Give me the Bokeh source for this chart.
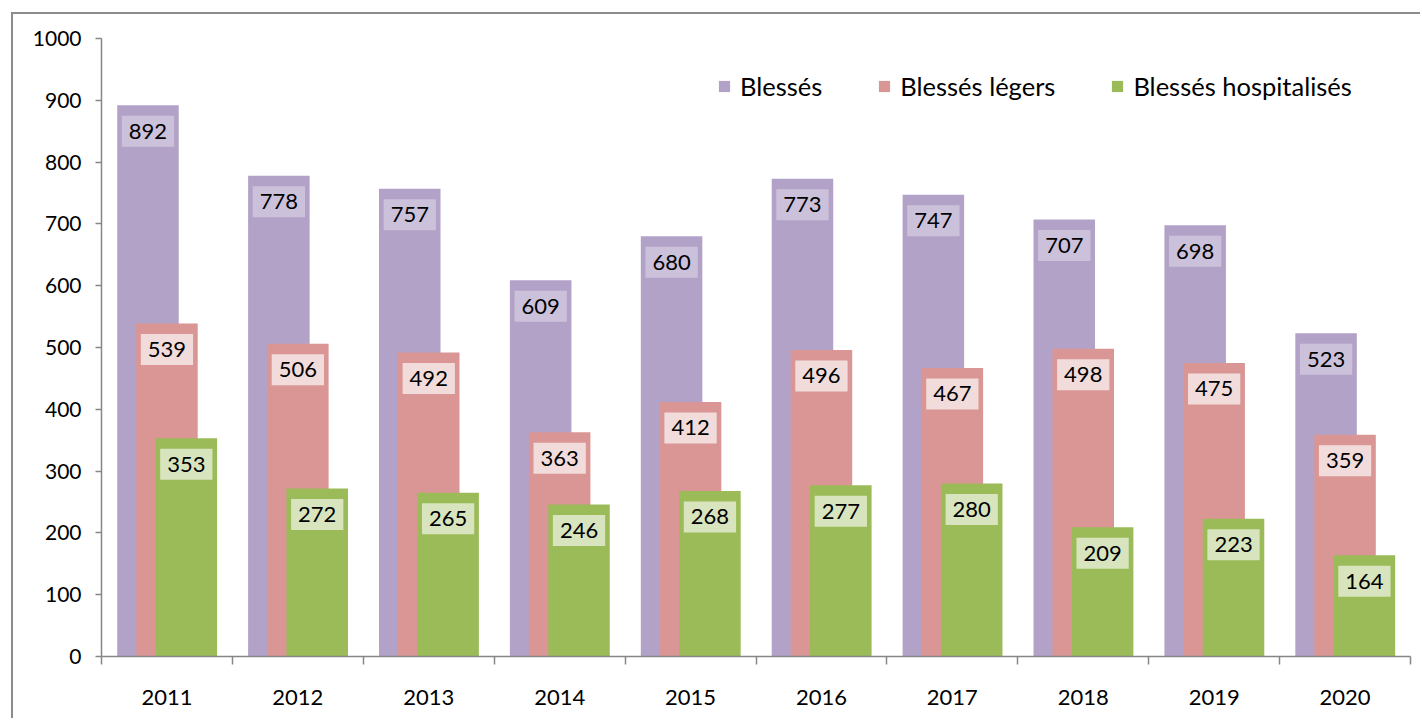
from bokeh.plotting import figure
from bokeh.models import Range1d, FixedTicker, Legend, LegendItem, ColumnDataSource, InlineStyleSheet
from bokeh.core.properties import value
from bokeh.transform import dodge
from bokeh.embed import file_html
from bokeh.resources import INLINE

years = [2011, 2012, 2013, 2014, 2015, 2016, 2017, 2018, 2019, 2020]
blesses = [892, 778, 757, 609, 680, 773, 747, 707, 698, 523]
blesses_legers = [539, 506, 492, 363, 412, 496, 467, 498, 475, 359]
blesses_hospitalises = [353, 272, 265, 246, 268, 277, 280, 209, 223, 164]
series_names = ["Blessés", "Blessés légers", "Blessés hospitalisés"]
y_ticks = [0, 100, 200, 300, 400, 500, 600, 700, 800, 900, 1000]

colors = ["#B3A2C7", "#D99694", "#9BBB59"]
label_bg = ["#CCC1DA", "#F2DCDB", "#D7E4BD"]
offsets = [-0.145, 0.0, 0.148]
FONT = "Lato"
AXIS_COLOR = "#868686"

p = figure(width=1420, height=718,
           x_range=Range1d(2010.5, 2020.5), y_range=Range1d(0, 1000),
           output_backend="svg", toolbar_location=None,
           min_border_left=101, min_border_right=10, min_border_top=38, min_border_bottom=62)
p.outline_line_color = None
p.xgrid.visible = False
p.ygrid.visible = False

src = ColumnDataSource(dict(year=years, b=blesses, l=blesses_legers, h=blesses_hospitalises))
renderers = []
for col, off, c in zip(["b", "l", "h"], offsets, colors):
    r = p.vbar(x=dodge("year", off, range=p.x_range), top=col, bottom=0, width=0.47,
               fill_color=c, line_color=None, source=src)
    renderers.append(r)

for col, off, bg in zip(["b", "l", "h"], offsets, label_bg):
    p.text(x=dodge("year", off, range=p.x_range), y=col, text=col, source=src,
           text_font=value(FONT), text_font_size="22px", text_color="#000000",
           text_align="center", text_baseline="middle", y_offset=26,
           background_fill_color=bg, padding=(7, 8))

# y axis
p.yaxis.ticker = FixedTicker(ticks=y_ticks)
p.yaxis.major_tick_out = 6
p.yaxis.major_tick_in = 0
p.yaxis.minor_tick_line_color = None
p.yaxis.major_label_standoff = 14
p.yaxis.axis_line_color = AXIS_COLOR
p.yaxis.axis_line_width = 1.5
p.yaxis.major_tick_line_color = AXIS_COLOR
p.yaxis.major_tick_line_width = 1.5
p.yaxis.major_label_text_font = FONT
p.yaxis.major_label_text_font_size = "21px"
p.yaxis.major_label_text_color = "#000000"

# x axis
p.xaxis.ticker = FixedTicker(ticks=years, minor_ticks=[y - 0.5 for y in years] + [years[-1] + 0.5])
p.xaxis.major_label_overrides = {y: str(y) for y in years}
p.xaxis.major_tick_line_color = None
p.xaxis.major_tick_out = 0
p.xaxis.major_tick_in = 0
p.xaxis.minor_tick_out = 8
p.xaxis.minor_tick_in = 0
p.xaxis.minor_tick_line_color = AXIS_COLOR
p.xaxis.minor_tick_line_width = 1.5
p.xaxis.axis_line_color = AXIS_COLOR
p.xaxis.axis_line_width = 1.5
p.xaxis.major_label_standoff = 25
p.xaxis.major_label_text_font = FONT
p.xaxis.major_label_text_font_size = "22px"
p.xaxis.major_label_text_color = "#000000"

legend = Legend(items=[LegendItem(label=n, renderers=[r]) for n, r in zip(series_names, renderers)],
                orientation="horizontal", location=(616, 555),
                glyph_width=14, glyph_height=14, label_standoff=9, spacing=55,
                padding=0, margin=0, border_line_color=None, background_fill_alpha=0,
                label_text_font=FONT, label_text_font_size="25.5px", label_text_color="#000000")
p.add_layout(legend)

p.stylesheets = [InlineStyleSheet(css="""
:host::after {
  content: "";
  position: absolute;
  left: 11px; top: 12px; right: 0; bottom: 0;
  border-left: 2px solid #8c8c8c;
  border-top: 2px solid #8c8c8c;
  pointer-events: none;
  z-index: 10;
}
""")]

open("out.html", "w").write(file_html(p, INLINE))
